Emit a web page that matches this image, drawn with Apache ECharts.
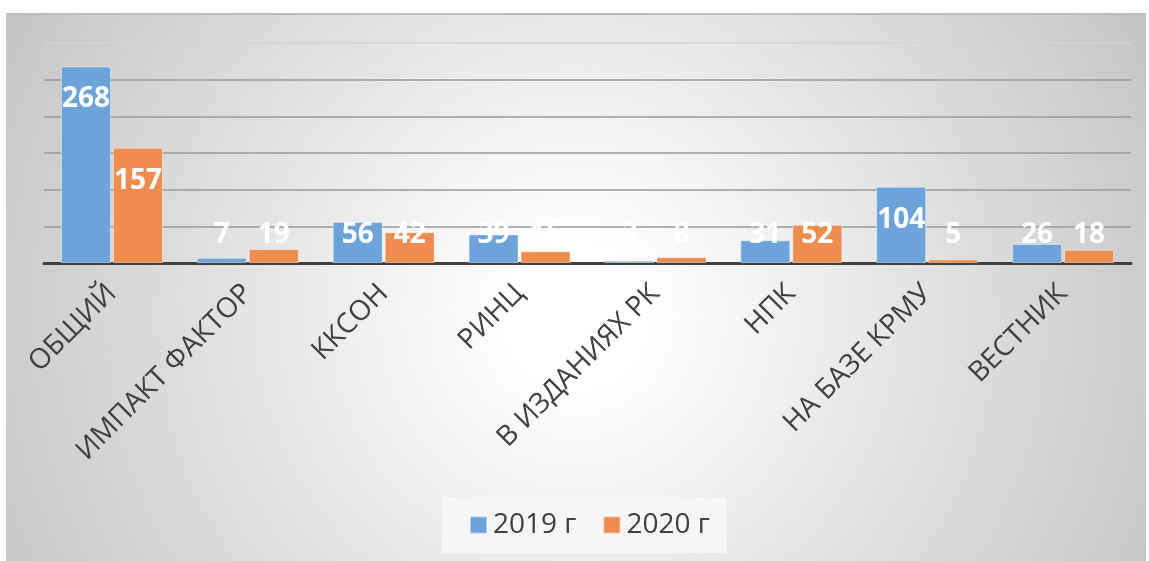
<!DOCTYPE html>
<html>
<head>
<meta charset="utf-8">
<script src="https://cdn.jsdelivr.net/npm/echarts@6/dist/echarts.min.js"></script>
<style>
  html, body { margin: 0; padding: 0; background: #ffffff; }
  #frame {
    position: absolute; left: 6px; top: 13px; width: 1140px; height: 548px;
    background: radial-gradient(circle 660px at 50% 55%, #ffffff 10%, #c3c3c3 100%);
    border-top: 2px solid #bdbdbd; box-sizing: border-box;
  }
  #chart { position: absolute; left: 0; top: 0; width: 1149px; height: 561px; }
</style>
</head>
<body>
<div id="frame"></div>
<div id="chart"></div>
<script>
const categories = ['ОБЩИЙ', 'ИМПАКТ ФАКТОР', 'ККСОН', 'РИНЦ', 'В ИЗДАНИЯХ РК', 'НПК', 'НА БАЗЕ КРМУ', 'ВЕСТНИК'];
const values2019 = [268, 7, 56, 39, 3, 31, 104, 26];
const values2020 = [157, 19, 42, 16, 8, 52, 5, 18];
const seriesNames = ['2019 г', '2020 г'];

const FONT = '"Open Sans", "DejaVu Sans", sans-serif';

function withLabels(arr) {
  return arr.map(v => ({
    value: v,
    label: v > 83 ? { position: 'insideTop', distance: 19 } : { position: 'insideBottom', distance: 14 }
  }));
}

const chart = echarts.init(document.getElementById('chart'), null, { renderer: 'canvas' });
const labelStyle = { show: true, color: '#ffffff', fontFamily: FONT, fontWeight: 'bold', fontSize: 28 };

chart.setOption({
  backgroundColor: 'transparent',
  animation: false,
  grid: { left: 44, right: 18, top: 43, bottom: 298, containLabel: false },
  legend: {
    data: seriesNames,
    left: 442, top: 497,
    padding: [14, 17, 14, 27],
    backgroundColor: '#f6f6f6',
    itemWidth: 17, itemHeight: 17, itemGap: 26,
    icon: 'rect',
    textStyle: { color: '#404040', fontFamily: FONT, fontSize: 28, padding: [0, 0, 0, 1] }
  },
  xAxis: {
    type: 'category',
    data: categories,
    axisLine: { show: true, lineStyle: { color: '#404040', width: 3 } },
    axisTick: { show: false },
    axisLabel: { rotate: 45, margin: 26, color: '#404040', fontFamily: FONT, fontSize: 28, interval: 0 }
  },
  yAxis: {
    type: 'value', min: 0, max: 300, interval: 50,
    axisLabel: { show: false }, axisLine: { show: false }, axisTick: { show: false },
    splitLine: { show: true, lineStyle: { color: ['#9a9a9a','#9a9a9a','#9a9a9a','#9a9a9a','#9a9a9a','#9a9a9a','#d4d4d4'], width: 1.5 } }
  },
  series: [
    {
      name: seriesNames[0], type: 'bar', data: withLabels(values2019),
      barWidth: 50, barGap: '4%',
      itemStyle: { color: '#6ca4d9', borderColor: 'rgba(255,255,255,0.45)', borderWidth: 1 },
      label: labelStyle
    },
    {
      name: seriesNames[1], type: 'bar', data: withLabels(values2020),
      barWidth: 50, barGap: '4%',
      itemStyle: { color: '#ee8d4f', borderColor: 'rgba(255,255,255,0.45)', borderWidth: 1 },
      label: labelStyle
    }
  ]
});
</script>
</body>
</html>
